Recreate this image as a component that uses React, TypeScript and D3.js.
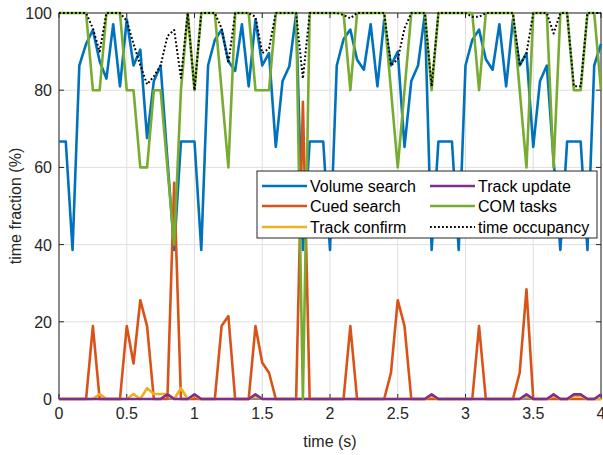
import React from 'react';
import * as d3 from 'd3';

// sampled every 0.05 s from 0 to 4 s
const sampleStep = 0.05;

const volumeSearch = [
  66.7, 66.7, 38.6, 86.4, 92, 95.6, 87.5, 83, 97.1, 81,
  98.3, 86.4, 90.5, 67.6, 82.4, 86.4, 62, 38.6, 66.7, 66.7,
  66.7, 38.6, 86.4, 93, 95.7, 87.5, 85, 97.1, 81, 98.3,
  86.4, 89.6, 65.3, 82.4, 86.2, 99.7, 38.6, 66.7, 66.7, 66.7,
  38.6, 86.4, 93.2, 95.7, 87.9, 85.3, 97.1, 81, 98.2, 86.4,
  90, 65.3, 82.4, 86.4, 99.7, 38.6, 66.7, 66.7, 66.7, 38.6,
  86.4, 93, 95.7, 88, 85.3, 97.1, 81, 98.3, 86.4, 89.6,
  65.3, 82.4, 86.4, 62, 38.6, 66.7, 66.7, 66.7, 38.6, 86.4,
  92,
];

const cuedSearch = [
  0, 0, 0, 0, 0, 18.9, 0, 0, 0, 0,
  18.9, 9.2, 25.6, 18.9, 0, 0, 0, 56, 0, 0,
  0, 0, 0, 0, 18.9, 21.5, 0, 0, 0, 18.9,
  9.4, 6.8, 0, 0, 0, 0, 77, 0, 0, 0,
  0, 0, 0, 18.9, 0, 0, 0, 0, 0, 6.8,
  25.6, 18.9, 0, 0, 0, 0, 0, 0, 0, 0,
  0, 0, 18.9, 0, 0, 0, 0, 0, 6.8, 28.4,
  0, 0, 0, 0, 0, 0, 0, 0, 0, 0,
  0,
];

const trackConfirm = [
  0, 0, 0, 0, 0, 0, 1.3, 0, 0, 0,
  0, 1.3, 0, 2.8, 1.3, 1.3, 1.3, 0, 2.8, 0,
  0.8, 0, 0, 0, 0, 0, 0, 0, 0, 0.8,
  0, 0, 0, 0, 0, 0, 0, 0, 0, 0,
  0, 0, 0, 0, 0, 0, 0, 0, 0, 0,
  0, 0, 0, 0, 0, 0.8, 0, 0, 0, 0,
  0, 0, 0, 0, 0, 0, 0, 0, 0, 0.8,
  0, 0, 0, 0.8, 0, 0, 0.8, 0.8, 0, 0,
  0,
];

const trackUpdate = [
  0, 0, 0, 0, 0, 0, 0, 0, 0, 0,
  0, 0, 0, 0, 0, 0, 1.2, 0, 0, 0,
  1.2, 0, 0, 0, 0, 0, 0, 0, 0, 1.2,
  0, 0, 0, 0, 0, 0, 0, 0, 0, 0,
  0, 0, 0, 0, 0, 0, 0, 0, 0, 0,
  0, 0, 0, 0, 0, 1.2, 0, 0, 0, 0,
  0, 0, 0, 0, 0, 0, 0, 0, 0, 1.2,
  0, 0, 0, 1.2, 0, 0, 1.2, 1.2, 0, 0,
  1.2,
];

const comTasks = [
  100, 100, 100, 100, 100, 80, 80, 100, 100, 100,
  80, 80, 60, 60, 80, 80, 60, 40, 80, 100,
  80, 100, 100, 100, 80, 60, 100, 100, 100, 80,
  80, 80, 100, 100, 100, 100, 0, 100, 100, 100,
  100, 100, 100, 80, 100, 100, 100, 100, 100, 80,
  60, 80, 100, 100, 100, 80, 100, 100, 100, 100,
  100, 100, 80, 100, 100, 100, 100, 100, 80, 60,
  100, 100, 100, 60, 100, 100, 80, 80, 100, 100,
  80,
];

const timeOccupancy = [
  100, 100, 100, 100, 100, 96, 90, 100, 100, 100,
  98, 92, 86.5, 81.5, 83.6, 86.4, 94, 95.6, 83.2, 100,
  80, 100, 100, 100, 96, 87, 100, 100, 100, 99,
  89.6, 90.8, 100, 100, 100, 100, 83, 100, 100, 100,
  100, 100, 99.5, 98.6, 100, 100, 100, 100, 100, 86.4,
  88, 96, 100, 100, 100, 81, 100, 100, 100, 100,
  100, 99, 99, 100, 100, 100, 100, 100, 86.4, 89.6,
  100, 100, 100, 94.7, 100, 100, 81, 81, 100, 100,
  100,
];

const xTicks = [0, 0.5, 1, 1.5, 2, 2.5, 3, 3.5, 4];
const yTicks = [0, 20, 40, 60, 80, 100];

const series = [
  { name: 'Volume search', values: volumeSearch, color: '#0072BD', dash: null },
  { name: 'Cued search', values: cuedSearch, color: '#D95319', dash: null },
  { name: 'Track confirm', values: trackConfirm, color: '#EDB120', dash: null },
  { name: 'Track update', values: trackUpdate, color: '#7E2F8E', dash: null },
  { name: 'COM tasks', values: comTasks, color: '#77AC30', dash: null },
  { name: 'time occupancy', values: timeOccupancy, color: '#000000', dash: '1.8 2.2' },
];

const W = 603;
const H = 455;
const margin = { top: 13, right: 2, bottom: 56, left: 59 };
const font = '"Liberation Sans", Arial, Helvetica, sans-serif';
const axisColor = '#262626';
const gridColor = '#dfdfdf';

export default function App() {
  const x = d3.scaleLinear().domain([0, 4]).range([margin.left, W - margin.right]);
  const y = d3.scaleLinear().domain([0, 100]).range([H - margin.bottom, margin.top]);
  const line = d3
    .line<number>()
    .x((_, i) => x(i * sampleStep))
    .y(d => y(d));

  const [x0, x1] = x.range();
  const [y0, y1] = y.range();
  const tick = 5;

  // legend layout
  const lg = { x: 257, y: 171, w: 340, h: 67 };
  const rowY = [186, 206, 227];
  const cols = [{ lx: 262, tx: 310 }, { lx: 430, tx: 478 }];

  return (
    <svg
      width={W}
      height={H}
      style={{ position: 'absolute', left: 0, top: 0, background: '#fff' }}
      fontFamily={font}
    >
      <rect x={0} y={0} width={W} height={H} fill="#fff" />

      {/* grid */}
      <g stroke={gridColor} strokeWidth={1}>
        {xTicks.map(t => (
          <line key={'gx' + t} x1={x(t)} x2={x(t)} y1={y1} y2={y0} />
        ))}
        {yTicks.map(t => (
          <line key={'gy' + t} x1={x0} x2={x1} y1={y(t)} y2={y(t)} />
        ))}
      </g>

      {/* box and ticks */}
      <g stroke={axisColor} strokeWidth={1} fill="none">
        <rect x={x0} y={y1} width={x1 - x0} height={y0 - y1} />
        {xTicks.map(t => (
          <g key={'tx' + t}>
            <line x1={x(t)} x2={x(t)} y1={y0} y2={y0 - tick} />
            <line x1={x(t)} x2={x(t)} y1={y1} y2={y1 + tick} />
          </g>
        ))}
        {yTicks.map(t => (
          <g key={'ty' + t}>
            <line x1={x0} x2={x0 + tick} y1={y(t)} y2={y(t)} />
            <line x1={x1} x2={x1 - tick} y1={y(t)} y2={y(t)} />
          </g>
        ))}
      </g>

      {/* series */}
      <g fill="none" strokeLinejoin="round">
        {series.map(s => (
          <path
            key={s.name}
            d={line(s.values) || ''}
            stroke={s.color}
            strokeWidth={s.dash ? 2 : 2.6}
            strokeDasharray={s.dash || undefined}
          />
        ))}
      </g>

      {/* tick labels */}
      <g fill={axisColor} fontSize={16}>
        {xTicks.map(t => (
          <text key={'lx' + t} x={x(t)} y={y0 + 20} textAnchor="middle">
            {String(t)}
          </text>
        ))}
        {yTicks.map(t => (
          <text key={'ly' + t} x={x0 - 7} y={y(t) + 6} textAnchor="end">
            {String(t)}
          </text>
        ))}
      </g>

      {/* axis titles */}
      <text x={(x0 + x1) / 2} y={447} textAnchor="middle" fontSize={16} fill={axisColor}>
        time (s)
      </text>
      <text
        transform={`translate(21,${(y0 + y1) / 2}) rotate(-90)`}
        textAnchor="middle"
        fontSize={16}
        fill={axisColor}
      >
        time fraction (%)
      </text>

      {/* legend */}
      <g>
        <rect x={lg.x} y={lg.y} width={lg.w} height={lg.h} fill="#fff" stroke={axisColor} strokeWidth={1} />
        {series.map((s, i) => {
          const c = cols[Math.floor(i / 3)];
          const ry = rowY[i % 3];
          return (
            <g key={'lg' + s.name}>
              <line
                x1={c.lx}
                x2={c.lx + 45}
                y1={ry}
                y2={ry}
                stroke={s.color}
                strokeWidth={s.dash ? 2 : 2.6}
                strokeDasharray={s.dash || undefined}
              />
              <text x={c.tx} y={ry + 6} fontSize={16} fill="#000">
                {s.name}
              </text>
            </g>
          );
        })}
      </g>
    </svg>
  );
}
